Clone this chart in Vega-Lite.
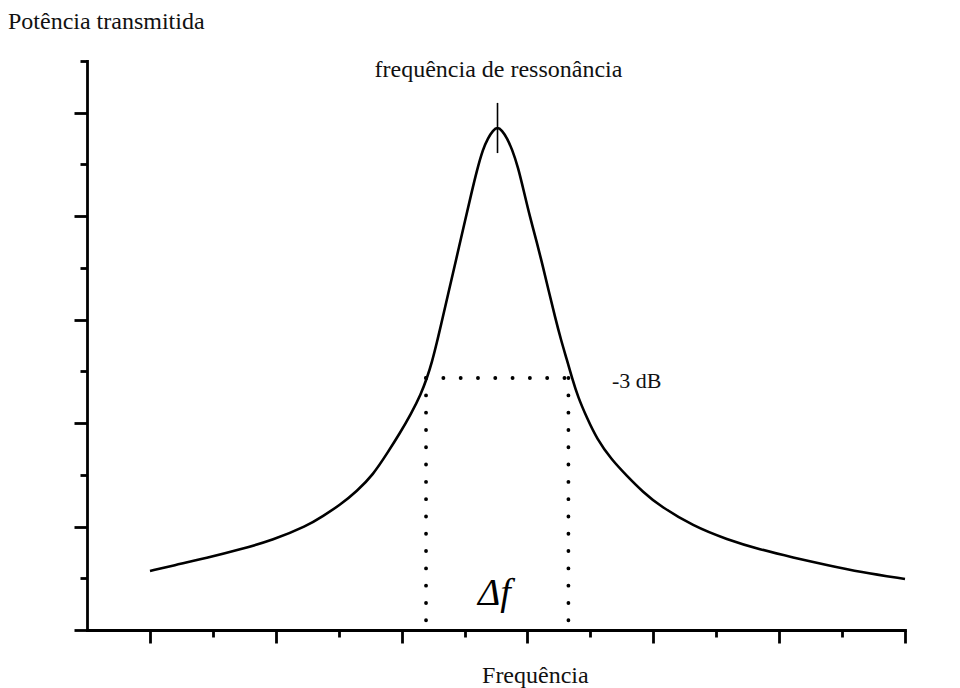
{
  "$schema": "https://vega.github.io/schema/vega-lite/v6.json",
  "width": 818,
  "height": 569,
  "autosize": {"type": "none"},
  "padding": {"left": 87, "top": 61, "right": 55, "bottom": 58},
  "background": "white",
  "config": {
    "view": {"stroke": null},
    "font": "Liberation Serif"
  },
  "datasets": {
    "curve": [
      {"f": 1.001, "p": 1.141}, {"f": 1.367, "p": 1.247}, {"f": 1.907, "p": 1.392},
      {"f": 2.432, "p": 1.556}, {"f": 2.956, "p": 1.740}, {"f": 3.496, "p": 2.011},
      {"f": 3.751, "p": 2.204}, {"f": 4.021, "p": 2.417}, {"f": 4.291, "p": 2.687},
      {"f": 4.545, "p": 2.997}, {"f": 4.784, "p": 3.441}, {"f": 4.974, "p": 3.808},
      {"f": 5.149, "p": 4.176}, {"f": 5.308, "p": 4.562}, {"f": 5.403, "p": 4.872},
      {"f": 5.483, "p": 5.181}, {"f": 5.562, "p": 5.568}, {"f": 5.626, "p": 5.896},
      {"f": 5.721, "p": 6.399}, {"f": 5.817, "p": 6.902}, {"f": 5.912, "p": 7.404},
      {"f": 6.007, "p": 7.907}, {"f": 6.103, "p": 8.410}, {"f": 6.198, "p": 8.893},
      {"f": 6.293, "p": 9.299}, {"f": 6.373, "p": 9.512}, {"f": 6.452, "p": 9.660},
      {"f": 6.524, "p": 9.725},
      {"f": 6.595, "p": 9.660}, {"f": 6.675, "p": 9.512}, {"f": 6.754, "p": 9.299},
      {"f": 6.850, "p": 8.951}, {"f": 6.945, "p": 8.467}, {"f": 7.040, "p": 7.984},
      {"f": 7.152, "p": 7.481}, {"f": 7.247, "p": 7.018}, {"f": 7.342, "p": 6.534},
      {"f": 7.438, "p": 6.051}, {"f": 7.533, "p": 5.606}, {"f": 7.628, "p": 5.219},
      {"f": 7.708, "p": 4.872}, {"f": 7.803, "p": 4.504}, {"f": 7.946, "p": 4.098},
      {"f": 8.105, "p": 3.692}, {"f": 8.328, "p": 3.306}, {"f": 8.582, "p": 2.977},
      {"f": 8.836, "p": 2.668}, {"f": 9.106, "p": 2.397}, {"f": 9.631, "p": 2.011},
      {"f": 10.171, "p": 1.750}, {"f": 10.696, "p": 1.556}, {"f": 11.220, "p": 1.402},
      {"f": 11.760, "p": 1.257}, {"f": 12.285, "p": 1.121}, {"f": 13.0, "p": 0.986}
    ],
    "dotted": [
      {"f": 5.388, "p": 4.872, "f2": 7.651, "p2": 4.872},
      {"f": 5.388, "p": 4.872, "f2": 5.388, "p2": 0},
      {"f": 7.651, "p": 4.872, "f2": 7.651, "p2": 0}
    ],
    "peak": [
      {"f": 6.524, "p": 10.19, "p2": 9.22}
    ],
    "leftLabels": [
      {"f": -1.256, "p": 11.62, "text": "Potência transmitida", "size": 24},
      {"f": 8.344, "p": 4.678, "text": "-3 dB", "size": 22},
      {"f": 6.278, "p": -1.025, "text": "Frequência", "size": 24}
    ],
    "centerLabels": [
      {"f": 6.539, "p": 10.69, "text": "frequência de ressonância", "size": 24}
    ],
    "delta": [
      {"f": 6.214, "p": 0.483, "text": "Δf"}
    ]
  },
  "layer": [
    {
      "data": {"name": "curve"},
      "mark": {"type": "line", "color": "black", "strokeWidth": 2.6, "interpolate": "basis", "clip": false},
      "encoding": {
        "x": {
          "field": "f", "type": "quantitative",
          "scale": {"domain": [0, 13], "nice": false, "zero": false},
          "axis": {
            "values": [1, 2, 3, 4, 5, 6, 7, 8, 9, 10, 11, 12, 13],
            "labels": false, "title": null, "grid": false,
            "domainColor": "black", "domainWidth": 2.8, "domainCap": "square",
            "tickColor": "black", "tickWidth": 2.8,
            "tickSize": {"condition": {"test": "datum.value % 2 === 1", "value": 13}, "value": 7}
          }
        },
        "y": {
          "field": "p", "type": "quantitative",
          "scale": {"domain": [0, 11], "nice": false, "zero": false},
          "axis": {
            "values": [0, 1, 2, 3, 4, 5, 6, 7, 8, 9, 10, 11],
            "labels": false, "title": null, "grid": false,
            "domainColor": "black", "domainWidth": 2.8, "domainCap": "square",
            "tickColor": "black", "tickWidth": 2.8,
            "tickSize": {"condition": {"test": "datum.value % 2 === 0", "value": 13}, "value": 7}
          }
        },
        "order": {"field": "f", "type": "quantitative"}
      }
    },
    {
      "data": {"name": "dotted"},
      "mark": {"type": "rule", "color": "black", "strokeWidth": 3.8, "strokeCap": "round", "strokeDash": [0.1, 17.2]},
      "encoding": {
        "x": {"field": "f", "type": "quantitative"},
        "y": {"field": "p", "type": "quantitative"},
        "x2": {"field": "f2"},
        "y2": {"field": "p2"}
      }
    },
    {
      "data": {"name": "peak"},
      "mark": {"type": "rule", "color": "black", "strokeWidth": 1.6},
      "encoding": {
        "x": {"field": "f", "type": "quantitative"},
        "y": {"field": "p", "type": "quantitative"},
        "y2": {"field": "p2"}
      }
    },
    {
      "data": {"name": "leftLabels"},
      "mark": {"type": "text", "color": "#111", "font": "Liberation Serif", "align": "left", "baseline": "alphabetic", "clip": false},
      "encoding": {
        "x": {"field": "f", "type": "quantitative"},
        "y": {"field": "p", "type": "quantitative"},
        "text": {"field": "text"},
        "size": {"field": "size", "type": "quantitative", "scale": null}
      }
    },
    {
      "data": {"name": "centerLabels"},
      "mark": {"type": "text", "color": "#111", "font": "Liberation Serif", "align": "center", "baseline": "alphabetic", "clip": false},
      "encoding": {
        "x": {"field": "f", "type": "quantitative"},
        "y": {"field": "p", "type": "quantitative"},
        "text": {"field": "text"},
        "size": {"field": "size", "type": "quantitative", "scale": null}
      }
    },
    {
      "data": {"name": "delta"},
      "mark": {"type": "text", "color": "black", "font": "Liberation Serif", "fontStyle": "italic", "fontSize": 38, "align": "left", "baseline": "alphabetic", "clip": false},
      "encoding": {
        "x": {"field": "f", "type": "quantitative"},
        "y": {"field": "p", "type": "quantitative"},
        "text": {"field": "text"}
      }
    }
  ]
}
